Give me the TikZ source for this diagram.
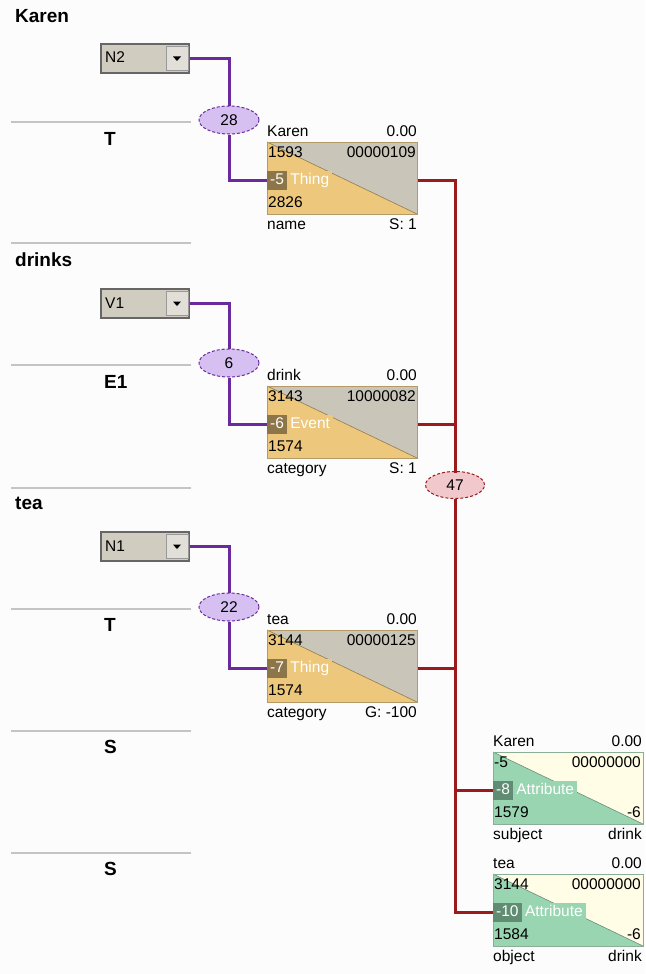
\documentclass[tikz,border=0pt]{standalone}
\usepackage{fontspec}
\setmainfont{Liberation Sans}
\usetikzlibrary{shapes.geometric}
\definecolor{bg}{HTML}{FCFCFC}
\definecolor{sepc}{HTML}{C4C4C4}
\definecolor{cgray}{HTML}{D0CCC0}
\definecolor{cbtn}{HTML}{E2DFD8}
\definecolor{ora}{HTML}{EDC77B}
\definecolor{gry}{HTML}{C9C6B9}
\definecolor{orad}{HTML}{8C7548}
\definecolor{oraedge}{HTML}{B39A66}
\definecolor{grn}{HTML}{99D5B1}
\definecolor{ylw}{HTML}{FFFDE6}
\definecolor{grnd}{HTML}{5F8C72}
\definecolor{grnedge}{HTML}{8AAE98}
\definecolor{purp}{HTML}{6A2A9E}
\definecolor{purpf}{HTML}{D6C0F2}
\definecolor{dred}{HTML}{9C1A1C}
\definecolor{pinkf}{HTML}{F1C8CB}
\newcommand\gui{\fontsize{15.5}{16}\selectfont}
\tikzset{
  big/.style={font=\fontsize{19}{20}\selectfont\bfseries, inner sep=0, anchor=west},
  txt/.style={font=\gui, inner sep=0, text height=11pt, text depth=3pt},
  sepline/.style={draw=sepc, line width=1.3pt},
  combobox/.style={draw=black!60, line width=1.6pt, fill=cgray, minimum width=88, minimum height=29, inner sep=0},
  combobtn/.style={draw=black!40, line width=0.6pt, fill=cbtn, minimum width=22, minimum height=24, inner sep=0},
  purl/.style={draw=purp, line width=3pt},
  redl/.style={draw=dred, line width=3pt},
  pell/.style={ellipse, draw=purp, densely dashed, line width=1pt, fill=purpf, minimum width=60, minimum height=28, inner sep=0, font=\gui},
  rell/.style={ellipse, draw=dred, densely dashed, line width=1pt, fill=pinkf, minimum width=59, minimum height=27, inner sep=0, font=\gui},
  numbox/.style={txt, text=white, inner xsep=3pt, minimum height=19, anchor=west},
}
% concept box: #1 name, #2 x, #3 y(top), #4 lower colour, #5 upper colour, #6 edge colour
\newcommand\cbox[6]{%
  \fill[#5] (#2,#3) rectangle ({#2+150},{#3+72});
  \fill[#4] (#2,#3) -- (#2,{#3+72}) -- ({#2+150},{#3+72}) -- cycle;
  \draw[#6!80!black, line width=0.6pt] (#2,#3) -- ({#2+150},{#3+72});
  \node[draw=#6, line width=0.8pt, minimum width=150, minimum height=72, inner sep=0, anchor=north west] (#1) at (#2,#3) {};
}
% combo: #1 name, #2 x, #3 y(top), #4 text
\newcommand\combo[4]{%
  \node[combobox] (#1) at ({#2+44},{#3+14.5}) {};
  \node[txt, anchor=west] (#1t) at ({#2+4},{#3+15}) {#4};
  \node[combobtn] (#1b) at ({#2+76},{#3+14.5}) {};
  \fill[black] ({#2+72},{#3+12.5}) -- ({#2+80},{#3+12.5}) -- ({#2+76},{#3+17}) -- cycle;
}
\begin{document}
\begin{tikzpicture}[x=1pt, y=-1pt]
\fill[bg] (0,0) rectangle (645,974);
\useasboundingbox (0,0) rectangle (645,974);

% left column labels and separators
\node[big] (wKaren) at (15,16) {Karen};
\node[big] (wdrinks) at (15,260) {drinks};
\node[big] (wtea) at (15,503) {tea};
\foreach \yy/\nm in {122/s1,243/s2,365/s3,488/s4,609/s5,731/s6,853/s7}
  \draw[sepline] (11,\yy) -- (191,\yy);
\node[big] (gT1) at (104,139) {T};
\node[big] (gE1) at (104,382) {E1};
\node[big] (gT2) at (104,625) {T};
\node[big] (gS1) at (104,747) {S};
\node[big] (gS2) at (104,869) {S};

% combos
\combo{c1}{101}{44}{N2}
\combo{c2}{101}{289}{V1}
\combo{c3}{101}{532}{N1}

% ellipses
\node[pell] (e28) at (229,120) {28};
\node[pell] (e6) at (229,363) {6};
\node[pell] (e22) at (229,607) {22};
\node[rell] (e47) at (455,485) {47};

% box 1 : Karen
\cbox{b1}{267}{142}{ora}{gry}{oraedge}
\node[txt, anchor=west] (b1h) at (267,132) {Karen};
\node[txt, anchor=east] (b1v) at (417,132) {0.00};
\node[txt, anchor=west] (b1a) at (268,153) {1593};
\node[txt, anchor=east] (b1b) at (416,153) {00000109};
\node[numbox, fill=orad] (n1) at (267,180) {-5};
\node[numbox, fill=ora] (l1) at (n1.east) {Thing};
\node[txt, anchor=west] (b1c) at (268,203) {2826};
\node[txt, anchor=west] (b1f) at (267,225) {name};
\node[txt, anchor=east] (b1g) at (417,225) {S: 1};

% box 2 : drink
\cbox{b2}{267}{386}{ora}{gry}{oraedge}
\node[txt, anchor=west] (b2h) at (267,376) {drink};
\node[txt, anchor=east] (b2v) at (417,376) {0.00};
\node[txt, anchor=west] (b2a) at (268,397) {3143};
\node[txt, anchor=east] (b2b) at (416,397) {10000082};
\node[numbox, fill=orad] (n2) at (267,424) {-6};
\node[numbox, fill=ora] (l2) at (n2.east) {Event};
\node[txt, anchor=west] (b2c) at (268,447) {1574};
\node[txt, anchor=west] (b2f) at (267,469) {category};
\node[txt, anchor=east] (b2g) at (417,469) {S: 1};

% box 3 : tea
\cbox{b3}{267}{630}{ora}{gry}{oraedge}
\node[txt, anchor=west] (b3h) at (267,620) {tea};
\node[txt, anchor=east] (b3v) at (417,620) {0.00};
\node[txt, anchor=west] (b3a) at (268,641) {3144};
\node[txt, anchor=east] (b3b) at (416,641) {00000125};
\node[numbox, fill=orad] (n3) at (267,668) {-7};
\node[numbox, fill=ora] (l3) at (n3.east) {Thing};
\node[txt, anchor=west] (b3c) at (268,691) {1574};
\node[txt, anchor=west] (b3f) at (267,713) {category};
\node[txt, anchor=east] (b3g) at (417,713) {G: -100};

% attribute 1
\cbox{a1}{493}{752}{grn}{ylw}{grnedge}
\node[txt, anchor=west] (a1h) at (493,742) {Karen};
\node[txt, anchor=east] (a1v) at (642,742) {0.00};
\node[txt, anchor=west] (a1a) at (494,763) {-5};
\node[txt, anchor=east] (a1b) at (641,763) {00000000};
\node[numbox, fill=grnd] (m1) at (493,790) {-8};
\node[numbox, fill=grn] (k1) at (m1.east) {Attribute};
\node[txt, anchor=west] (a1c) at (494,813) {1579};
\node[txt, anchor=east] (a1d) at (641,813) {-6};
\node[txt, anchor=west] (a1f) at (493,835) {subject};
\node[txt, anchor=east] (a1g) at (642,835) {drink};

% attribute 2
\cbox{a2}{493}{874}{grn}{ylw}{grnedge}
\node[txt, anchor=west] (a2h) at (493,864) {tea};
\node[txt, anchor=east] (a2v) at (642,864) {0.00};
\node[txt, anchor=west] (a2a) at (494,885) {3144};
\node[txt, anchor=east] (a2b) at (641,885) {00000000};
\node[numbox, fill=grnd] (m2) at (493,912) {-10};
\node[numbox, fill=grn] (k2) at (m2.east) {Attribute};
\node[txt, anchor=west] (a2c) at (494,935) {1584};
\node[txt, anchor=east] (a2d) at (641,935) {-6};
\node[txt, anchor=west] (a2f) at (493,957) {object};
\node[txt, anchor=east] (a2g) at (642,957) {drink};

% purple connectors
\draw[purl] (c1.east) -| (e28);
\draw[purl] (e28) |- (n1.west);
\draw[purl] (c2.east) -| (e6);
\draw[purl] (e6) |- (n2.west);
\draw[purl] (c3.east) -| (e22);
\draw[purl] (e22) |- (n3.west);

% red connectors
\coordinate (j1) at (455,180);
\coordinate (j2) at (455,424);
\coordinate (j3) at (455,668);
\coordinate (j4) at (455,790);
\coordinate (j5) at (455,912);
\draw[redl] (b1.east |- n1) -- (j1);
\draw[redl] (b2.east |- n2) -- (j2);
\draw[redl] (b3.east |- n3) -- (j3);
\draw[redl, line cap=rect] (j1) -- (e47);
\draw[redl] (e47) -- (j5) -- (m2.west);
\draw[redl] (j4) -- (m1.west);
\end{tikzpicture}
\end{document}
